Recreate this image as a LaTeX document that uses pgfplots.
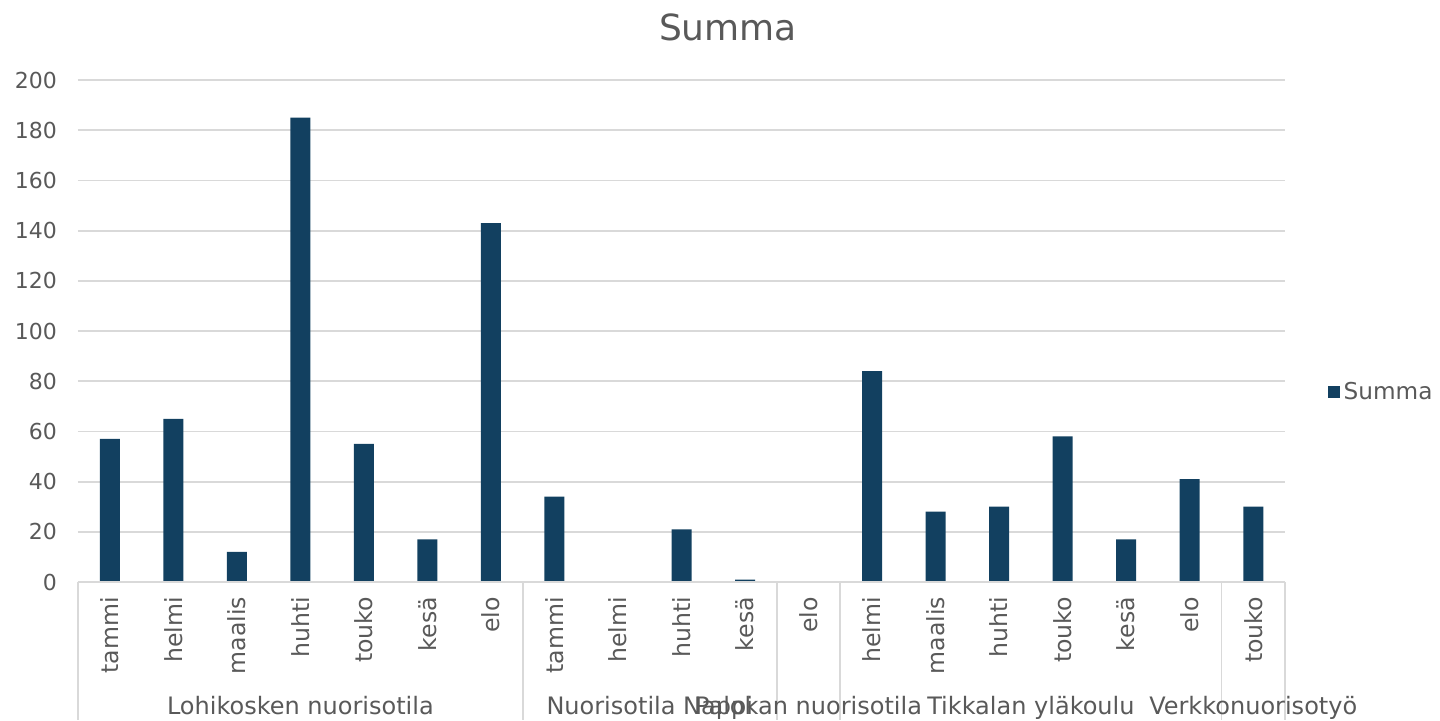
\documentclass[border=0pt]{standalone}
\usepackage{pgfplots}
\pgfplotsset{compat=1.18}
\usepackage{fontspec}
\setmainfont{DejaVu Sans}
\definecolor{barc}{RGB}{18,64,96}
\definecolor{txt}{RGB}{89,89,89}
\definecolor{grd}{RGB}{217,217,217}
\begin{document}
\begin{tikzpicture}
\path[use as bounding box] (0,0) rectangle (720pt,360pt);
\node[anchor=base, text=txt, font=\fontsize{18}{20}\selectfont] at (364pt,340pt) {Summa};
\begin{axis}[
  at={(39pt,69pt)}, anchor=south west,
  scale only axis, width=603.5pt, height=251pt,
  xmin=-0.5, xmax=18.5, ymin=0, ymax=200,
  clip=false,
  axis line style={draw=none},
  ytick={0,20,...,200},
  ymajorgrids, grid style={grd, line width=0.9pt},
  major tick length=0pt,
  xtick={0,...,18},
  xticklabels={tammi,helmi,maalis,huhti,touko,kesä,elo,tammi,helmi,huhti,kesä,elo,helmi,maalis,huhti,touko,kesä,elo,touko},
  xticklabel style={yshift=-4pt, rotate=90, anchor=east, text=txt, font=\fontsize{11.8}{13}\selectfont},
  yticklabel style={text=txt, font=\fontsize{11}{12}\selectfont, xshift=-7pt},
  /pgf/number format/assume math mode=true,
  legend style={at={(rel axis cs:1.03,0.378)}, anchor=west, draw=none, fill=none, text=txt, font=\fontsize{11.6}{12}\selectfont},
  legend image code/.code={\fill[barc] (0pt,-3pt) rectangle (6pt,3pt);},
]
\addplot[ybar, bar width=10pt, fill=barc, draw=none] coordinates {
(0,57)(1,65)(2,12)(3,185)(4,55)(5,17)(6,143)
(7,34)(8,0)(9,21)(10,1)
(11,0)
(12,84)(13,28)(14,30)(15,58)(16,17)(17,41)
(18,30)};
\addlegendentry{Summa}
\draw[grd, line width=0.9pt] (axis cs:-0.5,0) -- (axis cs:18.5,0);
\draw[grd, line width=0.9pt] (axis cs:-0.5,0) -- ++(0pt,-69pt);
\draw[grd, line width=0.9pt] (axis cs:6.5,0) -- ++(0pt,-69pt);
\draw[grd, line width=0.9pt] (axis cs:10.5,0) -- ++(0pt,-69pt);
\draw[grd, line width=0.9pt] (axis cs:11.5,0) -- ++(0pt,-69pt);
\draw[grd, line width=0.9pt] (axis cs:17.5,0) -- ++(0pt,-69pt);
\draw[grd, line width=0.9pt] (axis cs:18.5,0) -- ++(0pt,-69pt);
\node[anchor=base, text=txt, font=\fontsize{12}{13}\selectfont, inner sep=0pt] at ([yshift=-66pt]axis cs:3,0) {Lohikosken nuorisotila};
\node[anchor=base, text=txt, font=\fontsize{12}{13}\selectfont, inner sep=0pt] at ([yshift=-66pt]axis cs:8.5,0) {Nuorisotila Nappi};
\node[anchor=base, text=txt, font=\fontsize{12}{13}\selectfont, inner sep=0pt] at ([yshift=-66pt]axis cs:11,0) {Palokan nuorisotila};
\node[anchor=base, text=txt, font=\fontsize{12}{13}\selectfont, inner sep=0pt] at ([yshift=-66pt]axis cs:14.5,0) {Tikkalan yläkoulu};
\node[anchor=base, text=txt, font=\fontsize{12}{13}\selectfont, inner sep=0pt] at ([yshift=-66pt]axis cs:18,0) {Verkkonuorisotyö};
\end{axis}
\end{tikzpicture}
\end{document}
